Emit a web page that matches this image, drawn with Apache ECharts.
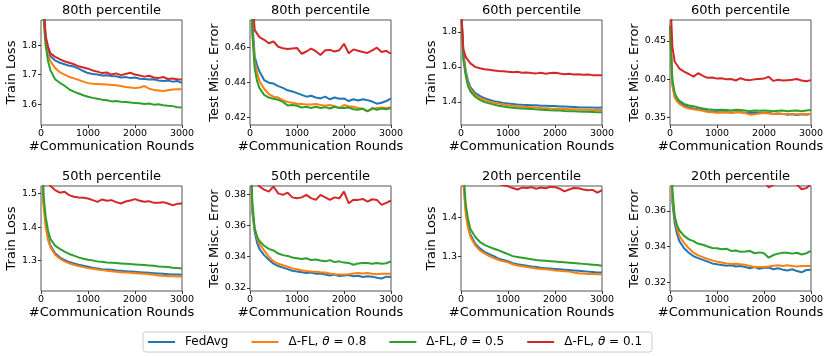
<!DOCTYPE html>
<html>
<head>
<meta charset="utf-8">
<script src="https://cdn.jsdelivr.net/npm/echarts@6/dist/echarts.min.js"></script>
<style>
  html, body { margin: 0; padding: 0; background: #fff; }
  #chart { width: 831px; height: 356px; }
</style>
</head>
<body>
<div id="chart"></div>
<script>
// communication rounds at which values were read
const rounds = [0, 50, 100, 150, 200, 300, 400, 500, 600, 700, 800, 900, 1000, 1100, 1200, 1300, 1400, 1500, 1600, 1700, 1800, 1900, 2000, 2100, 2200, 2300, 2400, 2500, 2600, 2700, 2800, 2900, 3000]

const seriesNames = ['FedAvg', 'Δ-FL, θ = 0.8', 'Δ-FL, θ = 0.5', 'Δ-FL, θ = 0.1']
const colors = ['#1f77b4', '#ff7f0e', '#2ca02c', '#d62728']

// 80th percentile, train loss
const p80TrainFedAvg = [2.3, 1.94, 1.82, 1.785, 1.762, 1.748, 1.74, 1.735, 1.73, 1.727, 1.72, 1.712, 1.705, 1.702, 1.70, 1.697, 1.698, 1.695, 1.694, 1.69, 1.692, 1.688, 1.69, 1.686, 1.685, 1.683, 1.684, 1.68, 1.678, 1.68, 1.676, 1.678, 1.672]
const p80TrainT08 = [2.3, 1.92, 1.80, 1.765, 1.745, 1.722, 1.708, 1.70, 1.692, 1.687, 1.682, 1.676, 1.671, 1.669, 1.668, 1.667, 1.666, 1.665, 1.664, 1.661, 1.658, 1.656, 1.654, 1.656, 1.661, 1.652, 1.648, 1.646, 1.644, 1.647, 1.649, 1.65, 1.65]
const p80TrainT05 = [2.3, 1.90, 1.80, 1.745, 1.715, 1.684, 1.672, 1.662, 1.65, 1.642, 1.636, 1.63, 1.625, 1.621, 1.618, 1.615, 1.613, 1.609, 1.61, 1.608, 1.607, 1.605, 1.604, 1.603, 1.60, 1.602, 1.598, 1.599, 1.596, 1.594, 1.593, 1.589, 1.588]
const p80TrainT01 = [2.3, 1.95, 1.83, 1.795, 1.772, 1.76, 1.752, 1.745, 1.74, 1.735, 1.728, 1.724, 1.72, 1.714, 1.71, 1.705, 1.707, 1.70, 1.704, 1.698, 1.702, 1.706, 1.70, 1.697, 1.693, 1.696, 1.69, 1.688, 1.692, 1.685, 1.687, 1.684, 1.683]

// 80th percentile, test error
const p80TestFedAvg = [0.52, 0.475, 0.455, 0.450, 0.4465, 0.4415, 0.440, 0.4395, 0.438, 0.437, 0.4356, 0.435, 0.434, 0.433, 0.432, 0.4325, 0.4315, 0.431, 0.432, 0.4305, 0.4315, 0.4308, 0.431, 0.4295, 0.4305, 0.4298, 0.4305, 0.430, 0.4292, 0.428, 0.4285, 0.4295, 0.431]
const p80TestT08 = [0.52, 0.47, 0.452, 0.446, 0.441, 0.4365, 0.4335, 0.432, 0.4315, 0.430, 0.429, 0.4285, 0.428, 0.4278, 0.4275, 0.4275, 0.4278, 0.4272, 0.4268, 0.4272, 0.4265, 0.4255, 0.4272, 0.4265, 0.4262, 0.4255, 0.425, 0.4238, 0.4248, 0.4255, 0.4258, 0.4255, 0.426]
const p80TestT05 = [0.52, 0.468, 0.448, 0.441, 0.437, 0.433, 0.4315, 0.4308, 0.4302, 0.429, 0.427, 0.4272, 0.4268, 0.4258, 0.4262, 0.4255, 0.4262, 0.4255, 0.426, 0.4252, 0.4262, 0.4255, 0.4255, 0.4258, 0.4248, 0.4245, 0.4252, 0.4235, 0.4255, 0.4245, 0.4252, 0.4248, 0.4255]
const p80TestT01 = [0.52, 0.49, 0.470, 0.468, 0.466, 0.4645, 0.4625, 0.4635, 0.4605, 0.4597, 0.4592, 0.4595, 0.4598, 0.4565, 0.4578, 0.4595, 0.458, 0.4558, 0.4585, 0.4587, 0.4578, 0.4585, 0.4622, 0.4568, 0.459, 0.4582, 0.4575, 0.457, 0.4585, 0.460, 0.4575, 0.4582, 0.4565]

// 60th percentile, train loss
const p60TrainFedAvg = [1.95, 1.68, 1.58, 1.52, 1.485, 1.452, 1.435, 1.422, 1.413, 1.405, 1.40, 1.395, 1.391, 1.389, 1.386, 1.384, 1.383, 1.382, 1.381, 1.379, 1.378, 1.377, 1.377, 1.375, 1.374, 1.373, 1.372, 1.370, 1.369, 1.368, 1.369, 1.367, 1.368]
const p60TrainT08 = [1.95, 1.66, 1.565, 1.505, 1.472, 1.44, 1.424, 1.412, 1.403, 1.396, 1.391, 1.386, 1.382, 1.379, 1.376, 1.374, 1.372, 1.370, 1.368, 1.366, 1.365, 1.363, 1.362, 1.361, 1.36, 1.359, 1.358, 1.357, 1.356, 1.356, 1.355, 1.355, 1.355]
const p60TrainT05 = [1.95, 1.64, 1.55, 1.49, 1.46, 1.43, 1.412, 1.40, 1.392, 1.385, 1.379, 1.374, 1.370, 1.367, 1.365, 1.363, 1.361, 1.36, 1.358, 1.356, 1.355, 1.353, 1.352, 1.351, 1.349, 1.348, 1.347, 1.346, 1.345, 1.344, 1.343, 1.342, 1.341]
const p60TrainT01 = [1.95, 1.70, 1.657, 1.638, 1.62, 1.60, 1.592, 1.586, 1.583, 1.58, 1.577, 1.575, 1.572, 1.570, 1.572, 1.567, 1.568, 1.565, 1.563, 1.566, 1.561, 1.565, 1.567, 1.562, 1.558, 1.561, 1.556, 1.558, 1.555, 1.557, 1.553, 1.552, 1.552]

// 60th percentile, test error
const p60TestFedAvg = [0.47, 0.395, 0.378, 0.373, 0.370, 0.366, 0.3635, 0.362, 0.361, 0.360, 0.3585, 0.358, 0.357, 0.357, 0.3575, 0.3565, 0.357, 0.357, 0.3565, 0.356, 0.3565, 0.356, 0.356, 0.3565, 0.355, 0.3555, 0.355, 0.354, 0.3545, 0.3535, 0.3545, 0.354, 0.355]
const p60TestT08 = [0.47, 0.392, 0.376, 0.371, 0.368, 0.364, 0.362, 0.361, 0.360, 0.359, 0.3575, 0.357, 0.3565, 0.3568, 0.357, 0.3565, 0.357, 0.357, 0.3562, 0.354, 0.3545, 0.3555, 0.356, 0.3555, 0.355, 0.3555, 0.355, 0.355, 0.3548, 0.3545, 0.355, 0.3548, 0.355]
const p60TestT05 = [0.47, 0.40, 0.382, 0.376, 0.372, 0.368, 0.366, 0.365, 0.3635, 0.362, 0.361, 0.3605, 0.360, 0.3605, 0.3600, 0.3595, 0.3605, 0.360, 0.3595, 0.3585, 0.3595, 0.359, 0.3595, 0.359, 0.3585, 0.359, 0.3595, 0.3585, 0.359, 0.3595, 0.3585, 0.3595, 0.360]
const p60TestT01 = [0.52, 0.443, 0.423, 0.4187, 0.414, 0.410, 0.407, 0.4035, 0.408, 0.4045, 0.402, 0.4025, 0.401, 0.4015, 0.400, 0.4005, 0.3985, 0.4015, 0.3995, 0.399, 0.400, 0.4005, 0.401, 0.4035, 0.398, 0.3995, 0.3985, 0.399, 0.3995, 0.4005, 0.3985, 0.3975, 0.399]

// 50th percentile, train loss
const p50TrainFedAvg = [1.9, 1.48, 1.41, 1.37, 1.345, 1.322, 1.31, 1.302, 1.296, 1.292, 1.288, 1.285, 1.282, 1.279, 1.277, 1.275, 1.274, 1.273, 1.271, 1.27, 1.269, 1.268, 1.267, 1.266, 1.265, 1.264, 1.263, 1.262, 1.261, 1.26, 1.259, 1.259, 1.258]
const p50TrainT08 = [1.9, 1.47, 1.40, 1.362, 1.34, 1.318, 1.306, 1.298, 1.292, 1.288, 1.284, 1.281, 1.278, 1.276, 1.274, 1.272, 1.27, 1.269, 1.267, 1.266, 1.265, 1.264, 1.263, 1.262, 1.261, 1.26, 1.258, 1.256, 1.255, 1.254, 1.254, 1.253, 1.253]
const p50TrainT05 = [1.9, 1.5, 1.43, 1.39, 1.365, 1.345, 1.335, 1.327, 1.32, 1.315, 1.31, 1.306, 1.303, 1.301, 1.298, 1.297, 1.295, 1.294, 1.293, 1.292, 1.291, 1.29, 1.289, 1.288, 1.287, 1.286, 1.285, 1.283, 1.282, 1.281, 1.279, 1.278, 1.277]
const p50TrainT01 = [1.9, 1.7, 1.58, 1.54, 1.522, 1.51, 1.502, 1.505, 1.495, 1.49, 1.488, 1.487, 1.485, 1.48, 1.475, 1.482, 1.478, 1.48, 1.474, 1.47, 1.476, 1.479, 1.483, 1.478, 1.475, 1.477, 1.472, 1.472, 1.474, 1.47, 1.465, 1.469, 1.47]

// 50th percentile, test error
const p50TestFedAvg = [0.42, 0.368, 0.356, 0.349, 0.345, 0.341, 0.338, 0.3355, 0.334, 0.333, 0.332, 0.331, 0.3305, 0.33, 0.3295, 0.3298, 0.329, 0.3292, 0.3286, 0.328, 0.3286, 0.3276, 0.328, 0.3282, 0.3275, 0.3278, 0.327, 0.3275, 0.3272, 0.3265, 0.326, 0.3272, 0.327]
const p50TestT08 = [0.42, 0.37, 0.358, 0.352, 0.348, 0.344, 0.340, 0.337, 0.3355, 0.3345, 0.3335, 0.3325, 0.332, 0.3313, 0.3308, 0.3305, 0.3303, 0.330, 0.3298, 0.3292, 0.3288, 0.3285, 0.3285, 0.3288, 0.3292, 0.3295, 0.3292, 0.3295, 0.329, 0.3288, 0.329, 0.329, 0.329]
const p50TestT05 = [0.42, 0.375, 0.358, 0.353, 0.350, 0.347, 0.345, 0.344, 0.342, 0.341, 0.3405, 0.3395, 0.339, 0.3385, 0.339, 0.3378, 0.3382, 0.3375, 0.337, 0.3378, 0.3365, 0.337, 0.3362, 0.336, 0.3348, 0.3356, 0.336, 0.336, 0.3355, 0.336, 0.3355, 0.3358, 0.337]
const p50TestT01 = [0.45, 0.41, 0.395, 0.388, 0.385, 0.383, 0.3817, 0.385, 0.3806, 0.3796, 0.381, 0.378, 0.3774, 0.378, 0.3796, 0.3775, 0.3764, 0.3796, 0.378, 0.3764, 0.378, 0.3774, 0.3817, 0.3742, 0.3765, 0.3764, 0.377, 0.3753, 0.3768, 0.3764, 0.3732, 0.3745, 0.376]

// 20th percentile, train loss
const p20TrainFedAvg = [1.9, 1.5, 1.42, 1.378, 1.356, 1.333, 1.32, 1.311, 1.305, 1.30, 1.293, 1.29, 1.287, 1.282, 1.279, 1.277, 1.275, 1.273, 1.272, 1.27, 1.269, 1.268, 1.267, 1.266, 1.265, 1.264, 1.263, 1.262, 1.261, 1.26, 1.259, 1.258, 1.258]
const p20TrainT08 = [1.9, 1.49, 1.41, 1.372, 1.35, 1.328, 1.315, 1.307, 1.30, 1.295, 1.29, 1.287, 1.284, 1.279, 1.276, 1.274, 1.272, 1.27, 1.268, 1.267, 1.266, 1.265, 1.263, 1.262, 1.261, 1.26, 1.258, 1.256, 1.255, 1.254, 1.254, 1.253, 1.253]
const p20TrainT05 = [1.9, 1.52, 1.435, 1.395, 1.37, 1.35, 1.337, 1.329, 1.324, 1.319, 1.315, 1.31, 1.305, 1.30, 1.298, 1.296, 1.294, 1.292, 1.29, 1.289, 1.288, 1.287, 1.286, 1.285, 1.284, 1.283, 1.282, 1.281, 1.28, 1.279, 1.278, 1.277, 1.275]
const p20TrainT01 = [1.9, 1.7, 1.6, 1.56, 1.54, 1.52, 1.51, 1.50, 1.495, 1.49, 1.486, 1.483, 1.48, 1.476, 1.472, 1.477, 1.476, 1.478, 1.474, 1.477, 1.475, 1.479, 1.478, 1.474, 1.467, 1.472, 1.476, 1.475, 1.472, 1.47, 1.471, 1.464, 1.47]

// 20th percentile, test error
const p20TestFedAvg = [0.42, 0.365, 0.353, 0.347, 0.343, 0.339, 0.3365, 0.3345, 0.3335, 0.3325, 0.3315, 0.3305, 0.33, 0.3296, 0.3292, 0.3295, 0.3288, 0.329, 0.3285, 0.3278, 0.3285, 0.3275, 0.328, 0.3282, 0.3272, 0.3278, 0.327, 0.3265, 0.3272, 0.3262, 0.3255, 0.3268, 0.327]
const p20TestT08 = [0.42, 0.368, 0.356, 0.35, 0.346, 0.342, 0.339, 0.3365, 0.335, 0.334, 0.333, 0.3322, 0.3315, 0.331, 0.3305, 0.3302, 0.3303, 0.330, 0.3298, 0.329, 0.3285, 0.3285, 0.3285, 0.3288, 0.3292, 0.3295, 0.329, 0.3295, 0.329, 0.3288, 0.329, 0.329, 0.329]
const p20TestT05 = [0.42, 0.372, 0.357, 0.352, 0.349, 0.346, 0.344, 0.343, 0.3415, 0.341, 0.340, 0.3392, 0.339, 0.3385, 0.3388, 0.3375, 0.3378, 0.337, 0.3372, 0.3375, 0.3362, 0.3367, 0.3362, 0.3337, 0.3352, 0.336, 0.3365, 0.3365, 0.336, 0.3365, 0.3355, 0.3362, 0.3375]
const p20TestT01 = [0.45, 0.41, 0.395, 0.39, 0.387, 0.384, 0.382, 0.383, 0.381, 0.38, 0.3795, 0.379, 0.378, 0.378, 0.3785, 0.3775, 0.377, 0.3785, 0.3775, 0.377, 0.3765, 0.3765, 0.377, 0.3732, 0.3748, 0.3755, 0.3758, 0.3752, 0.3755, 0.3748, 0.3722, 0.3728, 0.3752]

// y tick labels per panel
const ticksTrain80 = [1.6, 1.7, 1.8]
const ticksTest80 = [0.42, 0.44, 0.46]
const ticksTrain60 = [1.4, 1.6, 1.8]
const ticksTest60 = [0.35, 0.40, 0.45]
const ticksTrain50 = [1.3, 1.4, 1.5]
const ticksTest50 = [0.32, 0.34, 0.36, 0.38]
const ticksTrain20 = [1.3, 1.4]
const ticksTest20 = [0.32, 0.34, 0.36]
const xTicks = [0, 1000, 2000, 3000]

const panels = [
  { title: '80th percentile', ylabel: 'Train Loss', min: 1.529, max: 1.885, ticks: ticksTrain80, dec: 1, data: [p80TrainFedAvg, p80TrainT08, p80TrainT05, p80TrainT01] },
  { title: '80th percentile', ylabel: 'Test Misc. Error', min: 0.4158, max: 0.4758, ticks: ticksTest80, dec: 2, data: [p80TestFedAvg, p80TestT08, p80TestT05, p80TestT01] },
  { title: '60th percentile', ylabel: 'Train Loss', min: 1.269, max: 1.867, ticks: ticksTrain60, dec: 1, data: [p60TrainFedAvg, p60TrainT08, p60TrainT05, p60TrainT01] },
  { title: '60th percentile', ylabel: 'Test Misc. Error', min: 0.3405, max: 0.4774, ticks: ticksTest60, dec: 2, data: [p60TestFedAvg, p60TestT08, p60TestT05, p60TestT01] },
  { title: '50th percentile', ylabel: 'Train Loss', min: 1.21, max: 1.522, ticks: ticksTrain50, dec: 1, data: [p50TrainFedAvg, p50TrainT08, p50TrainT05, p50TrainT01] },
  { title: '50th percentile', ylabel: 'Test Misc. Error', min: 0.318, max: 0.3853, ticks: ticksTest50, dec: 2, data: [p50TestFedAvg, p50TestT08, p50TestT05, p50TestT01] },
  { title: '20th percentile', ylabel: 'Train Loss', min: 1.21, max: 1.481, ticks: ticksTrain20, dec: 1, data: [p20TrainFedAvg, p20TrainT08, p20TrainT05, p20TrainT01] },
  { title: '20th percentile', ylabel: 'Test Misc. Error', min: 0.315, max: 0.374, ticks: ticksTest20, dec: 2, data: [p20TestFedAvg, p20TestT08, p20TestT05, p20TestT01] }
]

// layout
const lefts = [41, 250, 461, 670]
const tops = [20, 186]
const plotW = 141
const plotH = 105
const nameGaps = [22, 27, 23, 28]
const font = 'DejaVu Sans'

const option = {
  animation: false,
  textStyle: { fontFamily: font },
  title: [],
  grid: [],
  xAxis: [],
  yAxis: [],
  series: [],
  legend: {
    left: 143,
    top: 332,
    padding: [4, 10, 4, 5],
    itemGap: 23,
    itemWidth: 27,
    itemHeight: 2,
    icon: 'rect',
    borderColor: '#cccccc',
    borderWidth: 1,
    borderRadius: 3,
    data: seriesNames,
    formatter: name => name.replace('θ', '{i|θ}'),
    textStyle: {
      fontFamily: font,
      fontSize: 12,
      color: '#000',
      padding: [0, 0, 0, 5],
      rich: { i: { fontStyle: 'italic', fontFamily: font, fontSize: 12, color: '#000' } }
    }
  }
}

panels.forEach((p, i) => {
  const col = i % 4
  const row = Math.floor(i / 4)
  const left = lefts[col]
  const top = tops[row]
  option.title.push({
    text: p.title,
    left: left + plotW / 2,
    top: top - 16,
    textAlign: 'center',
    padding: 0,
    textStyle: { fontFamily: font, fontSize: 13, fontWeight: 'normal', color: '#000' }
  })
  option.grid.push({
    left: left, top: top, width: plotW, height: plotH,
    show: true, borderColor: '#555', borderWidth: 1, backgroundColor: 'transparent'
  })
  option.xAxis.push({
    type: 'value', gridIndex: i, min: 0, max: 3000, interval: 1000,
    name: '#Communication Rounds', nameLocation: 'middle', nameGap: 14,
    nameTextStyle: { fontFamily: font, fontSize: 13, color: '#000' },
    axisLine: { show: false },
    axisTick: { show: true, inside: false, length: 3, lineStyle: { color: '#333' }, customValues: xTicks },
    axisLabel: { fontFamily: font, fontSize: 9.5, color: '#000', margin: 4, customValues: xTicks, formatter: v => String(v) },
    splitLine: { show: false }
  })
  option.yAxis.push({
    type: 'value', gridIndex: i, min: p.min, max: p.max,
    name: p.ylabel, nameLocation: 'middle', nameGap: nameGaps[col],
    nameTextStyle: { fontFamily: font, fontSize: 13, color: '#000' },
    axisLine: { show: false },
    axisTick: { show: true, inside: false, length: 3, lineStyle: { color: '#333' }, customValues: p.ticks },
    axisLabel: { fontFamily: font, fontSize: 9.5, color: '#000', margin: 4, customValues: p.ticks, formatter: v => v.toFixed(p.dec) },
    splitLine: { show: false }
  })
  p.data.forEach((vals, k) => {
    option.series.push({
      name: seriesNames[k],
      type: 'line',
      xAxisIndex: i,
      yAxisIndex: i,
      data: rounds.map((r, j) => [r, vals[j]]),
      showSymbol: false,
      symbol: 'none',
      clip: true,
      lineStyle: { width: 2, color: colors[k] },
      itemStyle: { color: colors[k] },
      z: 2 + k
    })
  })
})

const chart = echarts.init(document.getElementById('chart'), null, { renderer: 'canvas' })
chart.setOption(option)
</script>
</body>
</html>
